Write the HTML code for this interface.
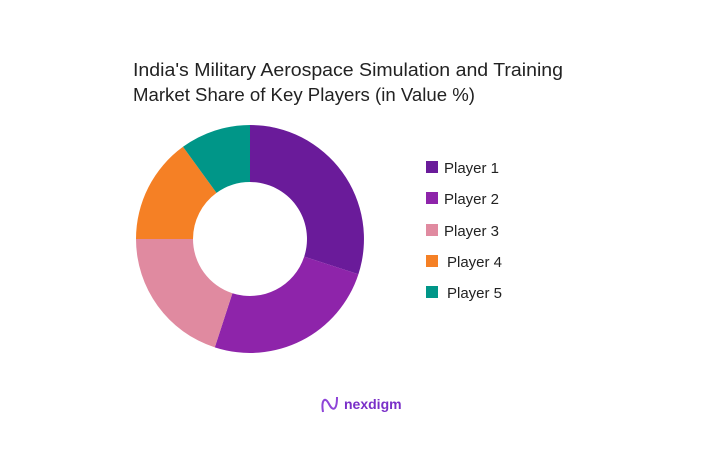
<!DOCTYPE html>
<html><head><style>
body{margin:0;background:#fff;width:706px;height:448px;overflow:hidden;font-family:"Liberation Sans",sans-serif}
</style></head><body>
<svg width="706" height="448" xmlns="http://www.w3.org/2000/svg">
<text x="133" y="76" font-size="18" fill="#222" font-family="Liberation Sans" textLength="430" lengthAdjust="spacingAndGlyphs">India's Military Aerospace Simulation and Training</text>
<text x="133" y="101" font-size="18" fill="#222" font-family="Liberation Sans" textLength="342" lengthAdjust="spacingAndGlyphs">Market Share of Key Players (in Value %)</text>
<path d="M250,125 A114,114 0 0 1 358.4,274.2 L304.2,256.6 A57,57 0 0 0 250,182 Z" fill="#6a1b9a"/>
<path d="M358.4,274.2 A114,114 0 0 1 214.8,347.4 L232.4,293.2 A57,57 0 0 0 304.2,256.6 Z" fill="#8e24aa"/>
<path d="M214.8,347.4 A114,114 0 0 1 136,239 L193,239 A57,57 0 0 0 232.4,293.2 Z" fill="#e08aa0"/>
<path d="M136,239 A114,114 0 0 1 183,146.8 L216.5,192.9 A57,57 0 0 0 193,239 Z" fill="#f58025"/>
<path d="M183,146.8 A114,114 0 0 1 250,125 L250,182 A57,57 0 0 0 216.5,192.9 Z" fill="#009688"/>
<g font-size="15" fill="#222" font-family="Liberation Sans">
<rect x="426" y="161" width="12" height="12" fill="#6a1b9a"/><text x="444" y="173">Player 1</text>
<rect x="426" y="192" width="12" height="12" fill="#8e24aa"/><text x="444" y="204">Player 2</text>
<rect x="426" y="224" width="12" height="12" fill="#e08aa0"/><text x="444" y="236">Player 3</text>
<rect x="426" y="255" width="12" height="12" fill="#f58025"/><text x="447" y="267">Player 4</text>
<rect x="426" y="286" width="12" height="12" fill="#009688"/><text x="447" y="298">Player 5</text>
</g>
<path d="M323,412 C321,400 325,396 329,404 C333,412 337,410 337,397" stroke="#8e44d8" stroke-width="2" fill="none"/>
<text x="344" y="409" font-size="14" font-weight="bold" fill="#7a2fc8" font-family="Liberation Sans">nexdigm</text>
</svg>
</body></html>
